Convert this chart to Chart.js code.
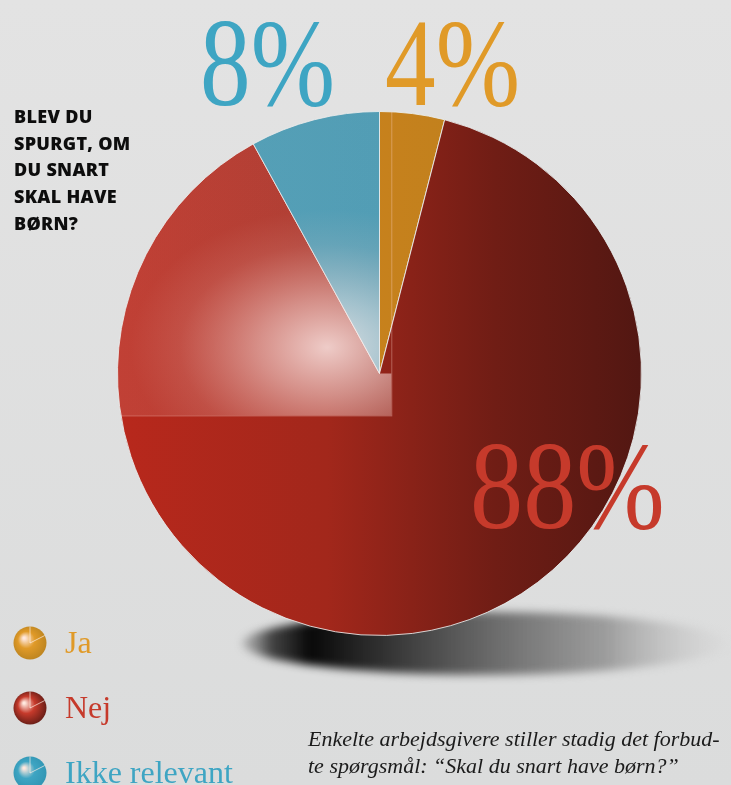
<!DOCTYPE html>
<html>
<head>
<meta charset="utf-8">
<title>Blev du spurgt, om du snart skal have børn?</title>
<script src="https://cdn.jsdelivr.net/npm/chart.js@4.4.0/dist/chart.umd.min.js"></script>
<style>
  body { margin: 0; }
  #wrap {
    position: relative; width: 731px; height: 785px; overflow: hidden;
    background: linear-gradient(#e3e3e3, #dbdcdc);
  }
</style>
</head>
<body>
<div id="wrap"><canvas id="pieChart"></canvas></div>
<script>
// chart data
const labels = ['Ja', 'Nej', 'Ikke relevant'];
const values = [4, 88, 8];
const textColors = ['#e09a28', '#c63a2b', '#3ea5c3'];
const titleLines = ['BLEV DU', 'SPURGT, OM', 'DU SNART', 'SKAL HAVE', 'BØRN?'];
const captionLines = ['Enkelte arbejdsgivere stiller stadig det forbud-', 'te spørgsmål: “Skal du snart have børn?”'];

// gradient stops per slice (left -> right)
const sliceStops = [
  [['0', '#d8821a'], ['1', '#b5801f']],
  [['0', '#b8281c'], ['0.4', '#a2271b'], ['0.72', '#701d15'], ['1', '#521712']],
  [['0', '#3a9cb8'], ['1', '#2e92b0']]
];

function sliceFill(c) {
  const chart = c.chart;
  const a = chart.chartArea;
  if (!a) return textColors[c.dataIndex];
  const g = chart.ctx.createLinearGradient(a.left, 0, a.right, 0);
  sliceStops[c.dataIndex].forEach(s => g.addColorStop(+s[0], s[1]));
  return g;
}

function pieGeom(chart) {
  const arc = chart.getDatasetMeta(0).data[0];
  return { cx: arc.x, cy: arc.y, r: arc.outerRadius };
}

const decor = {
  id: 'decor',
  beforeDatasetsDraw(chart) {
    // floor shadow
    const ctx = chart.ctx;
    const { cx, cy, r } = pieGeom(chart);
    const sx = cx + 0.40 * r, sy = cy + 1.03 * r, rx = 0.925 * r, ry = 0.12 * r;
    ctx.save();
    ctx.filter = 'blur(4px)';
    const g = ctx.createLinearGradient(sx - rx, 0, sx + rx, 0);
    g.addColorStop(0, 'rgba(90,90,90,0.25)');
    g.addColorStop(0.06, 'rgba(30,30,30,0.8)');
    g.addColorStop(0.14, 'rgba(8,8,8,1)');
    g.addColorStop(0.4, 'rgba(70,70,70,0.95)');
    g.addColorStop(0.75, 'rgba(140,140,140,0.8)');
    g.addColorStop(1, 'rgba(215,215,215,0.3)');
    ctx.fillStyle = g;
    ctx.beginPath();
    ctx.ellipse(sx, sy, rx, ry, 0, 0, Math.PI * 2);
    ctx.fill();
    ctx.restore();
  },
  afterDatasetsDraw(chart) {
    // glossy highlight in the upper left quarter
    const ctx = chart.ctx;
    const { cx, cy, r } = pieGeom(chart);
    const qw = r * 1.045, qh = r * 1.16;
    ctx.save();
    ctx.beginPath();
    ctx.arc(cx, cy, r, 0, Math.PI * 2);
    ctx.clip();
    ctx.beginPath();
    ctx.rect(cx - r, cy - r, r, qh);
    ctx.rect(cx - r, cy, qw, qh - r);
    ctx.clip();
    ctx.save();
    const hx = cx - 0.2 * r, hy = cy - 0.1 * r;
    ctx.translate(hx, hy);
    ctx.scale(1, 0.7);
    const g = ctx.createRadialGradient(0, 0, 0, 0, 0, 0.75 * r);
    g.addColorStop(0, 'rgba(255,240,238,0.82)');
    g.addColorStop(0.35, 'rgba(252,228,225,0.55)');
    g.addColorStop(0.75, 'rgba(245,200,195,0.25)');
    g.addColorStop(1, 'rgba(240,190,185,0.16)');
    ctx.fillStyle = g;
    ctx.fillRect(-2 * r, -3 * r, 4 * r, 6 * r);
    ctx.restore();
    ctx.restore();
    ctx.save();
    ctx.beginPath();
    ctx.arc(cx, cy, r, 0, Math.PI * 2);
    ctx.clip();
    ctx.strokeStyle = 'rgba(255,215,210,0.35)';
    ctx.lineWidth = 1;
    ctx.strokeRect(cx - r - 2, cy - r - 2, qw + 2.5, qh + 2.5);
    ctx.restore();
  },
  afterDraw(chart) {
    const ctx = chart.ctx;
    // big percentages
    const pctPos = [[385, 105], [470, 528], [200, 105]];
    ctx.save();
    ctx.font = '125px "Liberation Serif"';
    ctx.textBaseline = 'alphabetic';
    values.forEach((v, i) => {
      ctx.save();
      ctx.translate(pctPos[i][0], pctPos[i][1]);
      ctx.scale(i === 1 ? 0.85 : 0.81, 1);
      ctx.fillStyle = textColors[i];
      ctx.fillText(v + '%', 0, 0);
      ctx.restore();
    });
    ctx.restore();

    // title
    ctx.save();
    ctx.fillStyle = '#0d0d0d';
    ctx.font = '800 18px "Open Sans"';
    ctx.letterSpacing = '0.3px';
    titleLines.forEach((t, i) => ctx.fillText(t, 14, 123 + i * 26.7));
    ctx.restore();

    // caption
    ctx.save();
    ctx.fillStyle = '#1b1b1b';
    ctx.font = 'italic 22px "Liberation Serif"';
    captionLines.forEach((t, i) => ctx.fillText(t, 308, 746 + i * 26.7));
    ctx.restore();

    // legend
    const total = values.reduce((s, v) => s + v, 0);
    labels.forEach((lab, i) => {
      const ix = 30, iy = 643 + i * 65, ir = 16.5;
      ctx.save();
      const g = ctx.createRadialGradient(ix - 6, iy - 5, 1, ix, iy, ir * 1.2);
      g.addColorStop(0, 'rgba(255,232,222,1)');
      g.addColorStop(0.4, textColors[i]);
      g.addColorStop(1, sliceStops[i][sliceStops[i].length - 1][1]);
      ctx.fillStyle = g;
      ctx.beginPath();
      ctx.arc(ix, iy, ir, 0, Math.PI * 2);
      ctx.fill();
      ctx.strokeStyle = 'rgba(255,240,230,0.85)';
      ctx.lineWidth = 0.8;
      const ang = -Math.PI / 2 + (values[0] / total) * Math.PI * 2 + 0.85;
      ctx.beginPath();
      ctx.moveTo(ix, iy - ir);
      ctx.lineTo(ix, iy);
      ctx.lineTo(ix + Math.cos(ang) * ir, iy + Math.sin(ang) * ir);
      ctx.stroke();
      ctx.restore();
      ctx.save();
      ctx.fillStyle = textColors[i];
      ctx.font = '32px "Liberation Serif"';
      ctx.fillText(lab, 65, 653 + i * 65);
      ctx.restore();
    });
  }
};

new Chart(document.getElementById('pieChart'), {
  type: 'pie',
  data: {
    labels: labels,
    datasets: [{
      data: values,
      backgroundColor: sliceFill,
      borderColor: 'rgba(235,240,240,0.85)',
      borderWidth: 1,
      hoverOffset: 0
    }]
  },
  options: {
    responsive: true,
    maintainAspectRatio: false,
    animation: false,
    layout: { padding: { left: 117, right: 89, top: 111, bottom: 149 } },
    plugins: {
      legend: { display: false },
      tooltip: { enabled: false }
    }
  },
  plugins: [decor]
});
</script>
</body>
</html>
